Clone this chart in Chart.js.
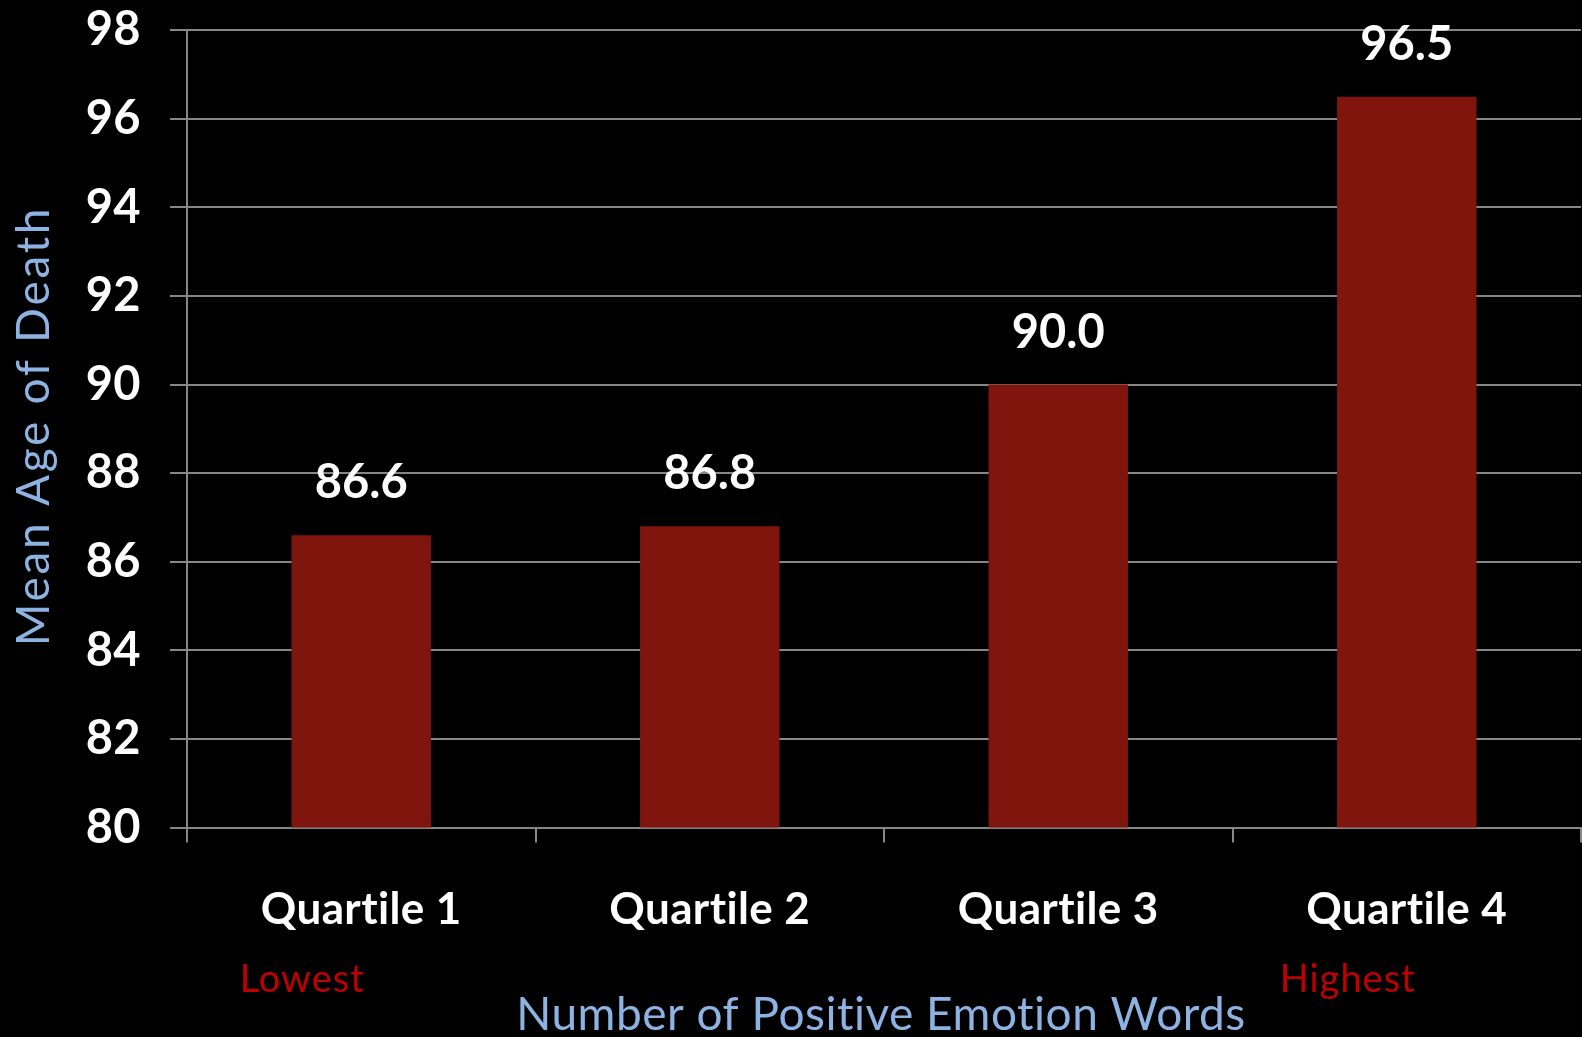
<!DOCTYPE html>
<html>
<head>
<meta charset="utf-8">
<style>
  html, body { margin: 0; padding: 0; background: #000; }
  #wrap { width: 1582px; height: 1037px; overflow: hidden; }
  canvas { display: block; }
</style>
<script src="https://cdn.jsdelivr.net/npm/chart.js@4/dist/chart.umd.min.js"></script>
</head>
<body>
<div id="wrap"><canvas id="chart" width="1582" height="1037"></canvas></div>
<script>
// Mean age of death by quartile of positive emotion words
const categories = ['Quartile 1', 'Quartile 2', 'Quartile 3', 'Quartile 4'];
const meanAge = [86.6, 86.8, 90.0, 96.5];
const rankLabels = ['Lowest', '', '', 'Highest'];
const yMin = 80;
const yMax = 98;
const yStep = 2;
const xTitle = 'Number of Positive Emotion Words';
const yTitle = 'Mean Age of Death';

const BOLD_FAMILY = 'Lato, "Liberation Sans", sans-serif';
const TITLE_FAMILY = 'Lato, "Open Sans", sans-serif';
const GRID = '#878787';
const TITLE_BLUE = '#8db3e2';
const RANK_RED = '#c00000';

// a touch of tracking keeps "ti" from fusing into a ligature
const tracking = {
  id: 'tracking',
  beforeDraw(chart) { chart.ctx.letterSpacing = '0.4px'; }
};

const annotations = {
  id: 'annotations',
  afterDatasetsDraw(chart) {
    const ctx = chart.ctx;
    const x = chart.scales.x;
    const meta = chart.getDatasetMeta(0);
    ctx.save();

    // value labels above each bar
    ctx.fillStyle = '#ffffff';
    ctx.font = 'bold 47px ' + BOLD_FAMILY;
    ctx.textAlign = 'center';
    ctx.textBaseline = 'alphabetic';
    ctx.letterSpacing = '0px';
    meta.data.forEach((bar, i) => {
      ctx.fillText(meanAge[i].toFixed(1), bar.x, bar.y - 37);
    });

    // lowest / highest markers under the category labels
    ctx.fillStyle = RANK_RED;
    ctx.font = '38px ' + TITLE_FAMILY;
    ctx.letterSpacing = '1px';
    rankLabels.forEach((t, i) => {
      if (!t) return;
      ctx.fillText(t, x.getPixelForValue(i) - 59, 992);
    });

    // axis titles
    ctx.fillStyle = TITLE_BLUE;
    ctx.font = '46px ' + TITLE_FAMILY;
    ctx.letterSpacing = '0.5px';
    ctx.fillText(xTitle, 881, 1030);

    ctx.translate(49, 426);
    ctx.rotate(-Math.PI / 2);
    ctx.font = '46px ' + TITLE_FAMILY;
    ctx.letterSpacing = '2.7px';
    ctx.fillText(yTitle, 0, 0);
    ctx.restore();
  }
};

new Chart(document.getElementById('chart'), {
  type: 'bar',
  data: {
    labels: categories,
    datasets: [{
      data: meanAge,
      backgroundColor: '#80150e',
      borderWidth: 0,
      barPercentage: 0.4,
      categoryPercentage: 1.0
    }]
  },
  options: {
    responsive: false,
    devicePixelRatio: 1,
    animation: false,
    layout: { padding: { top: 30.3, right: 1, left: 0, bottom: 0 } },
    plugins: {
      legend: { display: false },
      tooltip: { enabled: false },
      title: { display: false }
    },
    scales: {
      x: {
        offset: true,
        grid: {
          display: true,
          drawOnChartArea: false,
          drawTicks: true,
          tickLength: 15,
          color: GRID,
          lineWidth: 2
        },
        border: { display: true, color: GRID, width: 2 },
        ticks: {
          color: '#ffffff',
          font: { family: BOLD_FAMILY, size: 44, weight: 'bold' },
          padding: 41,
          maxRotation: 0
        },
        afterFit(scale) {
          scale.height = 209.5;
          scale.paddingLeft = 0;
          scale.paddingRight = 0;
        }
      },
      y: {
        min: yMin,
        max: yMax,
        grid: {
          color: GRID,
          lineWidth: 2,
          tickLength: 17,
          drawTicks: true
        },
        border: { display: true, color: GRID, width: 2 },
        ticks: {
          stepSize: yStep,
          color: '#ffffff',
          font: { family: BOLD_FAMILY, size: 47, weight: 'bold' },
          padding: 29
        },
        afterFit(scale) {
          scale.width = 187;
          scale.paddingTop = 0;
          scale.paddingBottom = 0;
        }
      }
    }
  },
  plugins: [tracking, annotations]
});
</script>
</body>
</html>
